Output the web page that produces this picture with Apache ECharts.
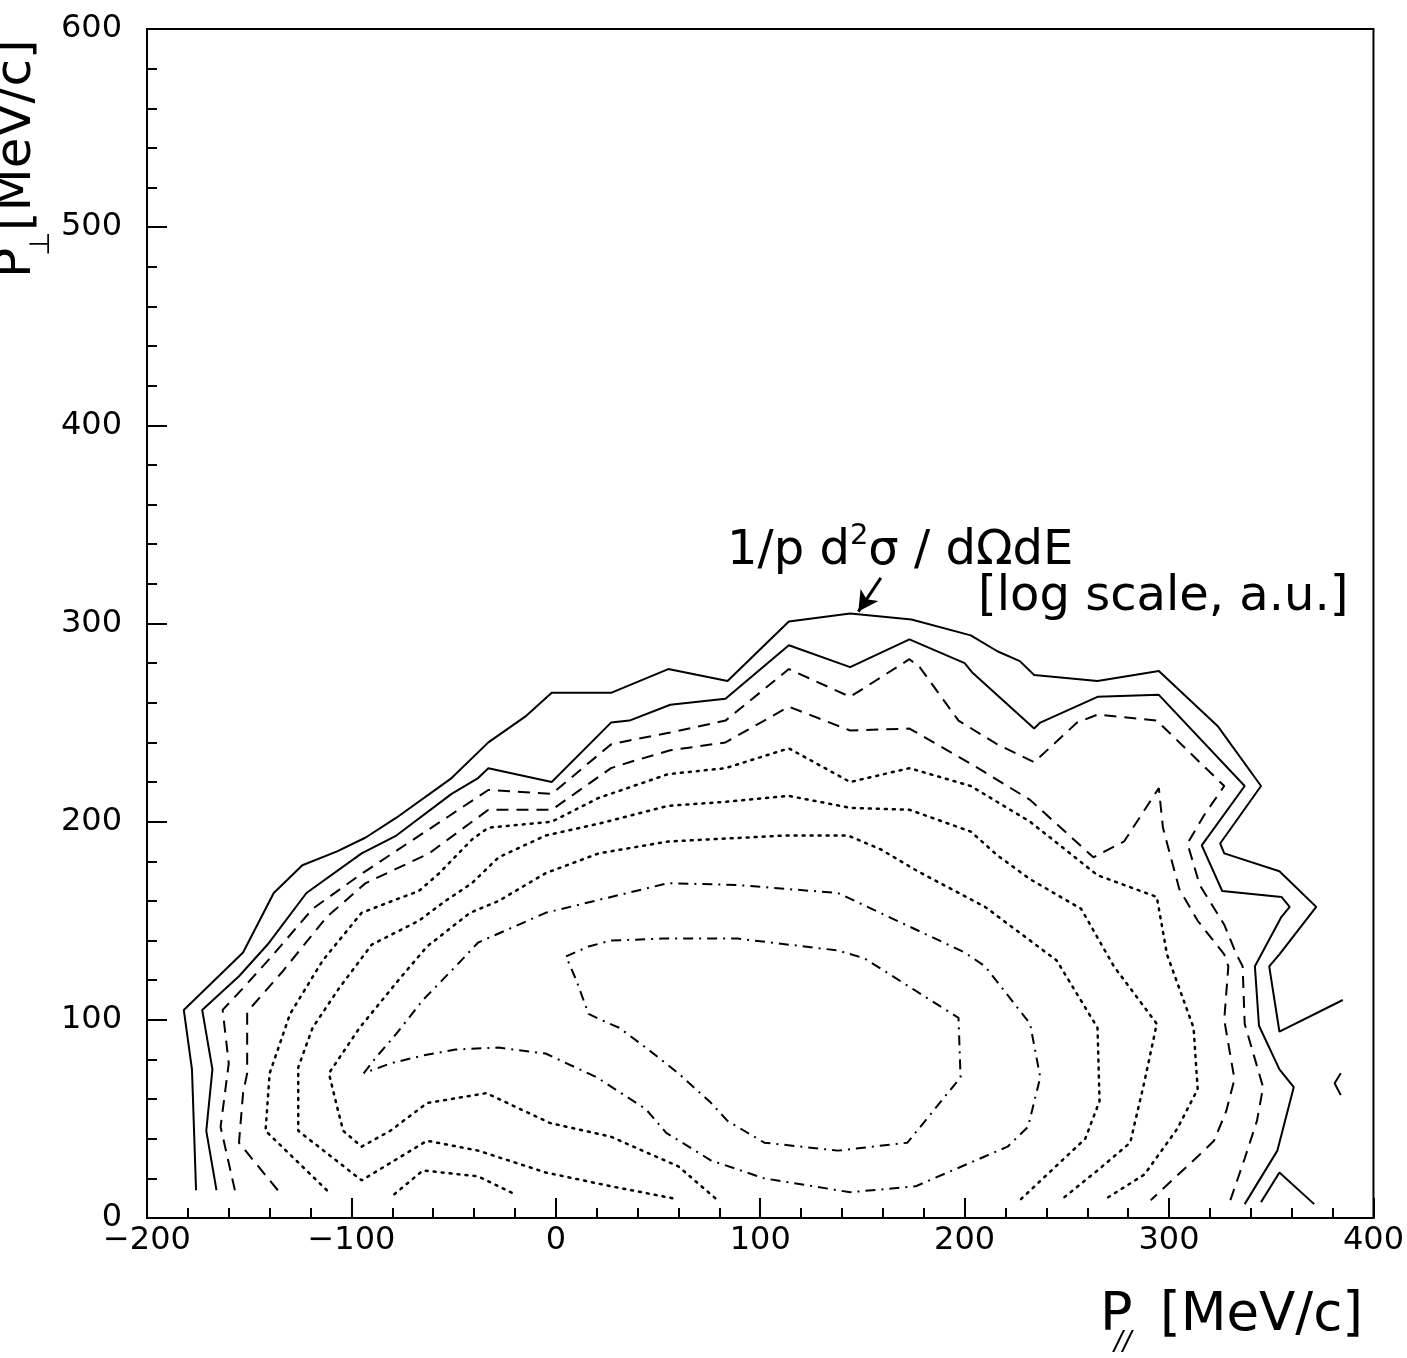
<!DOCTYPE html>
<html><head><meta charset="utf-8">
<script src="https://cdn.jsdelivr.net/npm/echarts/dist/echarts.min.js"></script>
<style>html,body{margin:0;padding:0;background:#fff}#c{width:1407px;height:1358px}</style>
</head><body><div id="c"></div><script>
// Axis ticks
const xTicks = [-200, -100, 0, 100, 200, 300, 400];
const yTicks = [0, 100, 200, 300, 400, 500, 600];

// Contour lines (P_par [MeV/c], P_perp [MeV/c]), outermost level first
const solid1 = [[-176,14],[-178,75],[-182,105],[-153,134],[-138,164],[-124,178],[-107,185],[-93,192],[-78,202],[-51,222],[-33,240],[-15,253],[-2,265],[27,265],[55,277],[84,271],[114,301],[144,305],[174,302],[203,294],[216,286],[227,281],[234,274],[265,271],[295,276],[324,248],[345,218],[325,189],[327,184],[354,175],[372,157],[354,133],[349,127],[354,94],[385,110]];
const solid1Hat = [[345,8],[354,23],[371,7]];
const solid1Angle = [[384,73],[381,68],[384,62]];
const solid2 = [[-166,14],[-171,44],[-168,75],[-173,105],[-155,122],[-141,138],[-122,164],[-95,184],[-78,193],[-51,214],[-38,222],[-33,227],[-2,220],[27,250],[36,251],[56,259],[83,262],[114,289],[144,278],[173,292],[200,280],[204,275],[234,247],[237,250],[265,263],[295,264],[337,218],[316,188],[326,165],[355,162],[359,157],[355,152],[342,127],[344,97],[354,75],[361,66],[353,34],[337,7]];
const dashed1 = [[-157,14],[-164,46],[-160,78],[-163,105],[-153,116],[-139,132],[-119,156],[-96,173],[-77,186],[-52,203],[-33,216],[-2,214],[27,239],[36,241],[56,245],[83,251],[114,277],[144,263],[173,282],[178,278],[197,251],[216,239],[234,230],[255,250],[265,254],[294,251],[327,218],[317,203],[309,189],[315,168],[327,148],[333,133],[336,127],[337,98],[346,66],[343,49],[337,30],[330,9]];
const dashed2 = [[-136,14],[-155,38],[-153,63],[-151,73],[-151,104],[-134,124],[-112,152],[-93,169],[-62,184],[-33,206],[-2,206],[27,227],[36,230],[56,236],[83,240],[114,258],[144,246],[173,247],[205,228],[232,211],[263,182],[278,190],[295,217],[297,197],[305,166],[314,150],[327,133],[329,127],[327,100],[332,70],[328,54],[322,39],[314,31],[291,9]];
const dotted1 = [[-112,14],[-142,44],[-140,73],[-130,103],[-114,130],[-95,154],[-80,160],[-67,165],[-57,174],[-41,191],[-33,197],[-2,200],[21,212],[55,224],[83,227],[114,237],[144,220],[173,227],[203,218],[232,200],[265,173],[294,162],[299,133],[312,96],[314,65],[304,45],[288,22],[268,9]];
const dotted1b = [[-79,12],[-65,24],[-38,21],[-20,12]];
const dotted2 = [[57,10],[27,16],[-5,23],[-38,34],[-63,39],[-95,19],[-126,44],[-126,76],[-119,96],[-106,116],[-90,138],[-67,150],[-54,160],[-41,169],[-28,182],[-5,193],[21,199],[55,208],[83,210],[114,213],[144,207],[173,206],[203,195],[216,183],[232,171],[257,156],[273,127],[294,98],[288,69],[281,38],[265,24],[247,9]];
const dotted3 = [[78,10],[60,26],[27,41],[-3,48],[-34,63],[-63,58],[-81,44],[-95,36],[-104,44],[-107,56],[-111,73],[-96,96],[-77,120],[-63,137],[-42,154],[-28,160],[-5,174],[21,184],[55,190],[112,193],[143,193],[159,186],[177,175],[210,157],[245,130],[255,113],[265,96],[266,59],[259,40],[227,9]];
const dashdot1 = [[-94,73],[-88,81],[-78,93],[-65,110],[-49,127],[-38,139],[-5,154],[27,162],[55,169],[89,168],[138,164],[200,134],[210,127],[232,98],[237,71],[231,46],[221,36],[176,16],[144,13],[102,20],[76,29],[54,43],[44,55],[20,71],[-5,83],[-28,86],[-49,85],[-65,82],[-81,78],[-94,73]];
const dashdot2 = [[5,132],[16,137],[27,140],[52,141],[89,141],[138,135],[151,131],[197,101],[198,71],[172,38],[138,34],[102,38],[84,49],[76,58],[60,73],[44,86],[31,96],[22,100],[16,103],[10,120],[5,132]];

// Annotation arrow (data coords)
const arrowTail = [159, 323];
const arrowHead = [148, 306];

const FONT = '"DejaVu Sans", "Noto Sans", sans-serif';
const lineTypes = {
  solid: {type: 'solid', width: 2},
  dashed: {type: [12, 8], width: 2},
  dotted: {type: [2, 6], width: 2.5, cap: 'round'},
  dashdot: {type: [10, 6, 2, 6], width: 2}
};
const pieces = [
  ['solid', solid1], ['solid', solid1Hat], ['solid', solid1Angle], ['solid', solid2],
  ['dashed', dashed1], ['dashed', dashed2],
  ['dotted', dotted1], ['dotted', dotted1b], ['dotted', dotted2], ['dotted', dotted3],
  ['dashdot', dashdot1], ['dashdot', dashdot2]
];
const series = pieces.map(([k, d], i) => {
  const s = {
    type: 'line', data: d, symbol: 'none', smooth: false, silent: true,
    lineStyle: Object.assign({color: '#000'}, lineTypes[k])
  };
  if (i === 0) {
    s.markLine = {
      silent: true, symbol: ['none', 'arrow'], symbolSize: [16, 20],
      label: {show: false},
      lineStyle: {color: '#000', width: 3, type: 'solid'},
      data: [[{coord: arrowTail}, {coord: arrowHead}]]
    };
  }
  return s;
});

const axisCommon = {
  axisLine: {show: true, onZero: false, lineStyle: {color: '#000', width: 2}},
  axisTick: {show: true, inside: true, length: 20, lineStyle: {color: '#000', width: 2}},
  minorTick: {show: true, splitNumber: 5, length: 10, lineStyle: {color: '#000', width: 2}},
  splitLine: {show: false}
};

const chart = echarts.init(document.getElementById('c'), null, {renderer: 'canvas'});
chart.setOption({
  animation: false,
  backgroundColor: '#fff',
  grid: {left: 147, right: 30, top: 29, bottom: 140, show: true, borderColor: '#000', borderWidth: 2},
  xAxis: Object.assign({
    type: 'value', min: xTicks[0], max: xTicks[xTicks.length - 1], interval: 100,
    axisLabel: {margin: 7, fontSize: 32, fontFamily: FONT, color: '#000',
      formatter: v => String(v).replace('-', '\u2212')}
  }, axisCommon),
  yAxis: Object.assign({
    type: 'value', min: yTicks[0], max: yTicks[yTicks.length - 1], interval: 100,
    axisLabel: {margin: 25, fontSize: 32, fontFamily: FONT, color: '#000'}
  }, axisCommon),
  series: series,
  graphic: [
    {
      type: 'group', x: -8, y: 278, rotation: Math.PI / 2,
      children: [
        {type: 'text', x: 0, y: 0, style: {text: 'P', font: '50px ' + FONT, fill: '#000', verticalAlign: 'top', textVerticalAlign: 'top'}},
        {type: 'text', x: 22, y: 36, style: {text: '\u22A5', font: '28px ' + FONT, fill: '#000', verticalAlign: 'top', textVerticalAlign: 'top'}},
        {type: 'text', x: 47, y: 0, style: {text: '[MeV/c]', font: '50px ' + FONT, fill: '#000', verticalAlign: 'top', textVerticalAlign: 'top'}}
      ]
    },
    {type: 'text', left: 1100, top: 1289, style: {text: 'P', font: '54px ' + FONT, fill: '#000'}},
    {type: 'text', left: 1114, top: 1330, style: {text: '//', font: 'italic 26px ' + FONT, fill: '#000'}},
    {type: 'text', left: 1160, top: 1290, style: {text: '[MeV/c]', font: '53px ' + FONT, fill: '#000'}},
    {
      type: 'text', left: 727, top: 522,
      style: {
        text: '{a|1/p d}{s|2}{a|\u03C3 / d\u03A9dE}',
        rich: {
          a: {fontSize: 48, fontFamily: FONT, fill: '#000', color: '#000', lineHeight: 54, verticalAlign: 'bottom'},
          s: {fontSize: 29, fontFamily: FONT, fill: '#000', color: '#000', lineHeight: 54, verticalAlign: 'top'}
        }
      }
    },
    {type: 'text', left: 978, top: 574, style: {text: '[log scale, a.u.]', font: '48px ' + FONT, fill: '#000'}}
  ]
});
</script></body></html>
